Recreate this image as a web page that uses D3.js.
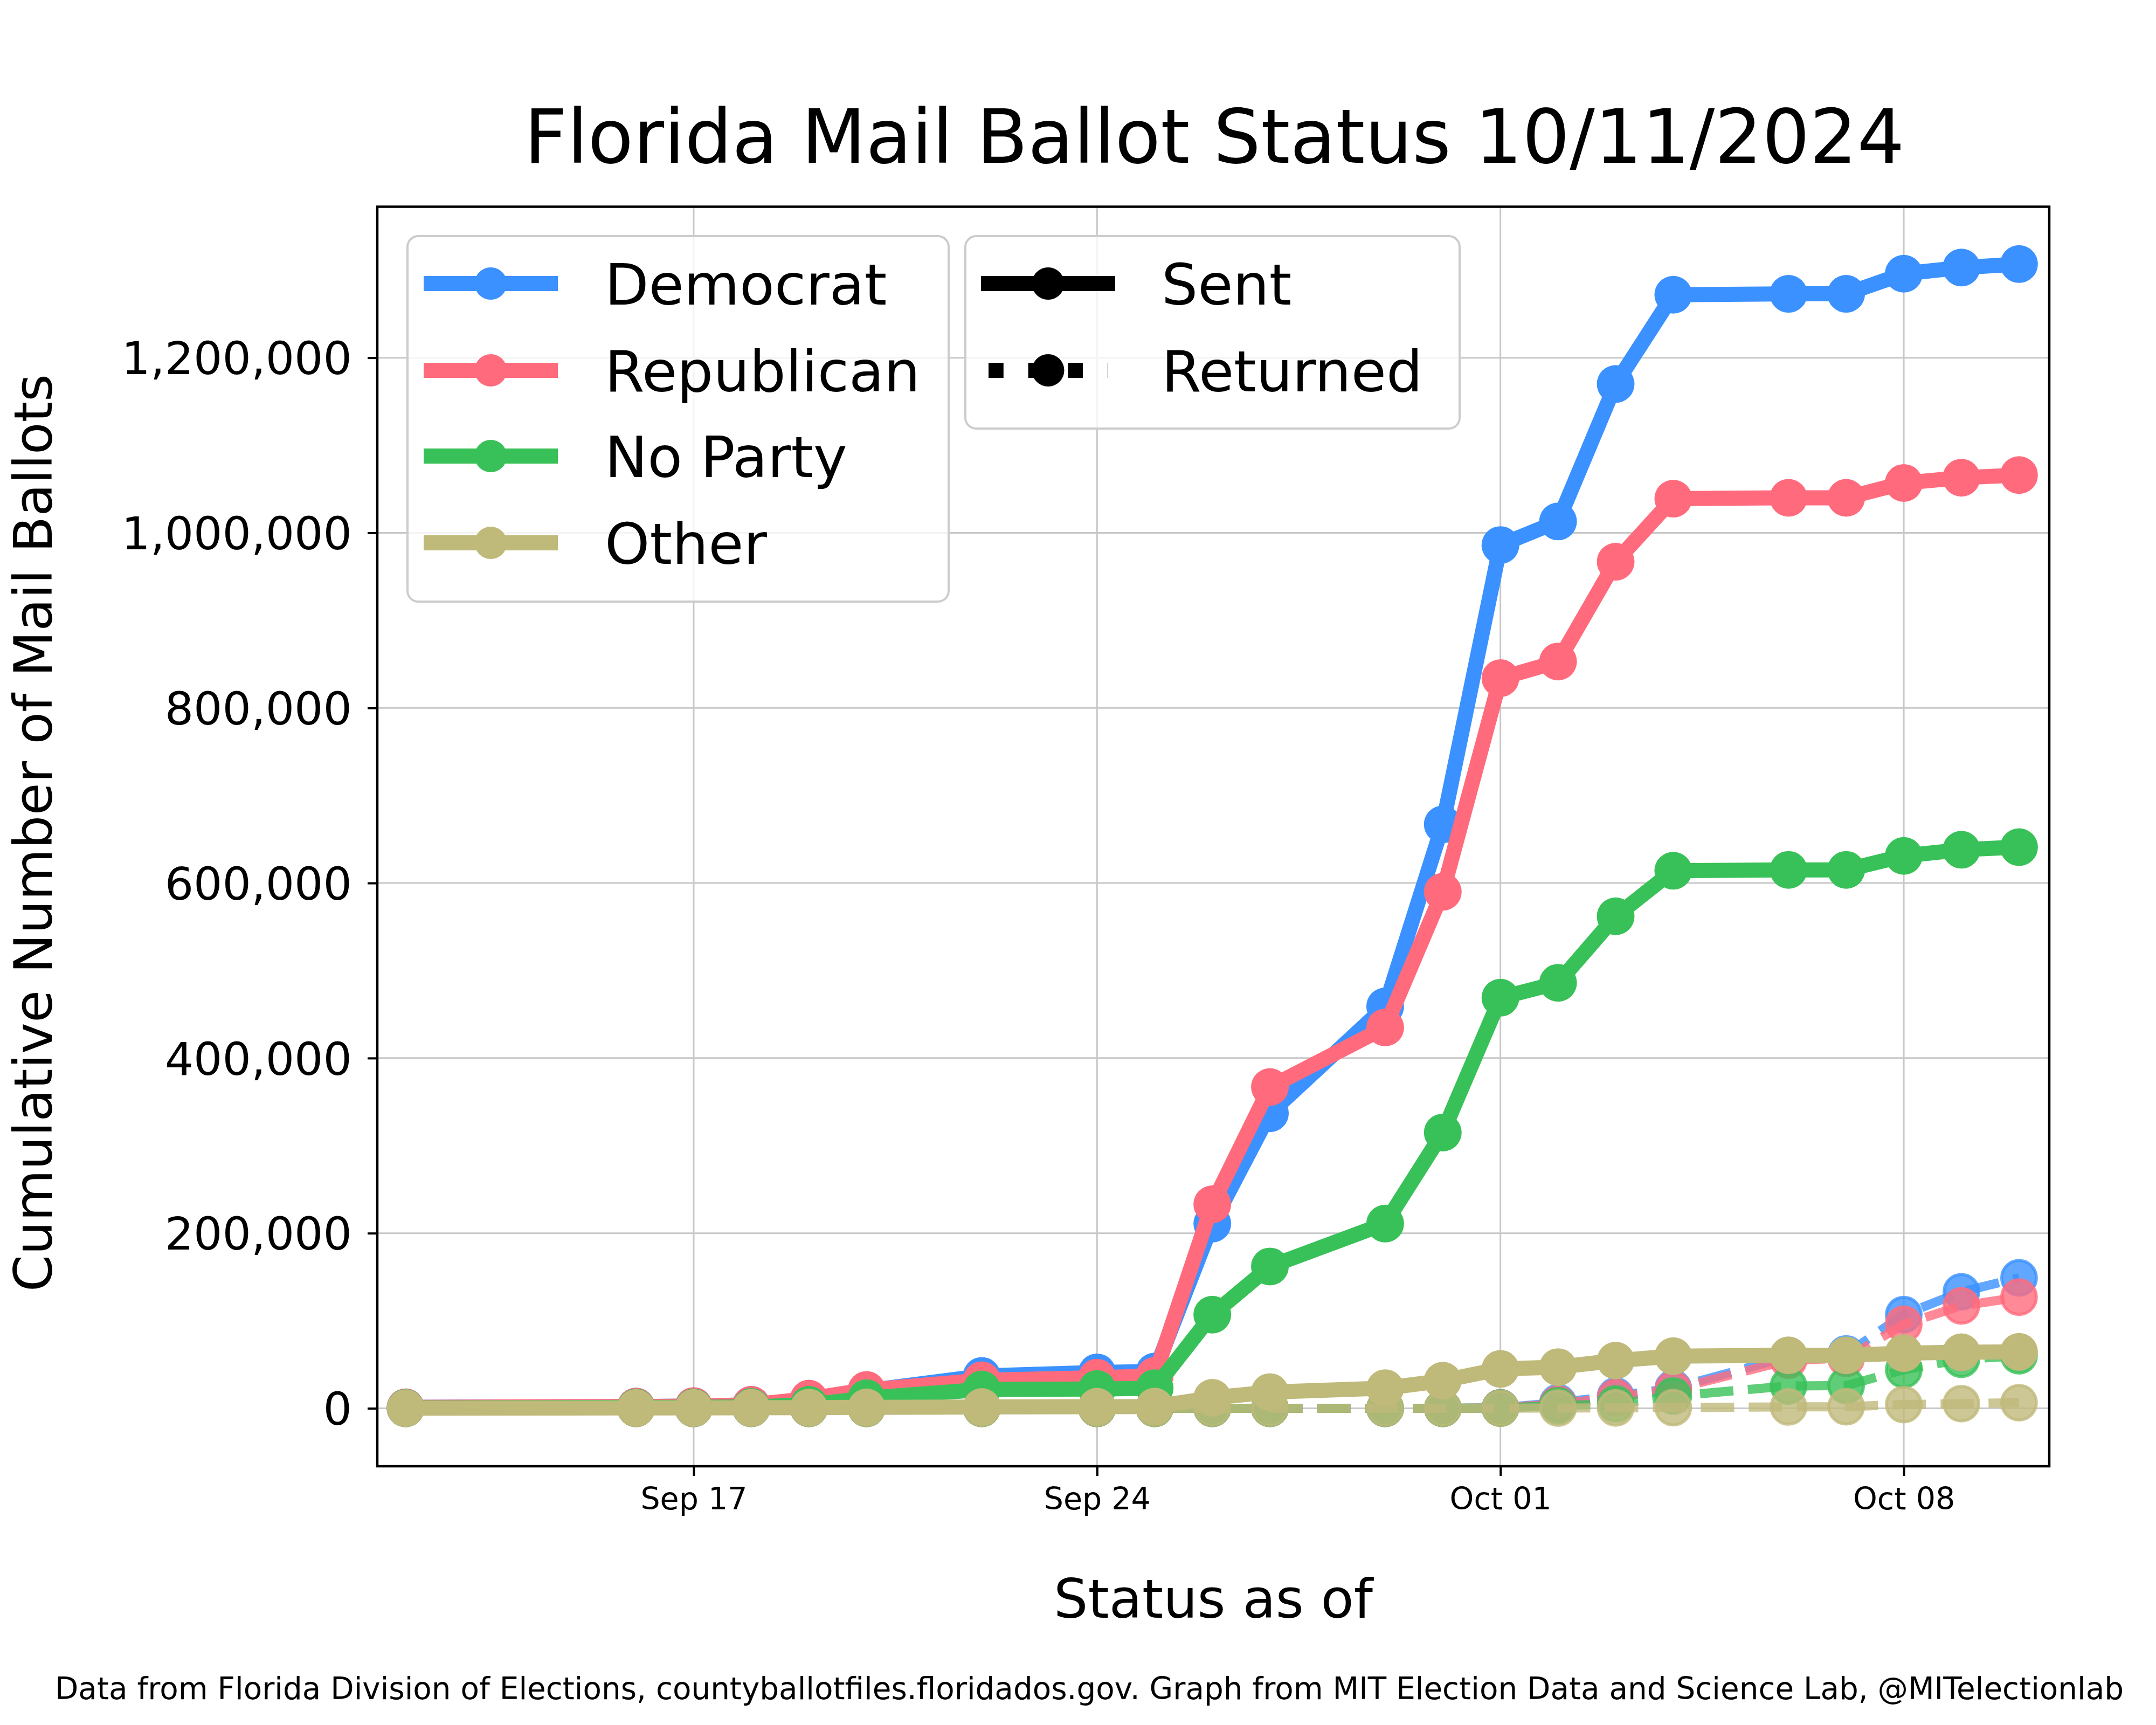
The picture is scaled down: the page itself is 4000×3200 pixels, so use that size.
<!DOCTYPE html>
<html><head><meta charset="utf-8">
<script src="https://cdn.jsdelivr.net/npm/d3@7"></script>
<style>
body{margin:0;background:#fff}
svg{display:block}
text{font-family:"DejaVu Sans",sans-serif;fill:#000}
</style>
</head><body>
<svg id="chart" width="4000" height="3200"></svg>
<script>
// ---------- data ----------
const dates = ["2024-09-12","2024-09-16","2024-09-17","2024-09-18","2024-09-19","2024-09-20","2024-09-22",
  "2024-09-24","2024-09-25","2024-09-26","2024-09-27","2024-09-29","2024-09-30","2024-10-01",
  "2024-10-02","2024-10-03","2024-10-04","2024-10-06","2024-10-07","2024-10-08","2024-10-09","2024-10-10"];
const parties = ["Democrat","Republican","No Party","Other"];
const partyColors = ["#3b91ff","#ff6b7d","#38c158","#bfb97a"];
const sentDemocrat   = [1000,2000,2500,4000,10000,20000,37000,41000,42000,211000,337000,459000,667000,986000,1013000,1170000,1272000,1273000,1273000,1296000,1303000,1307000];
const sentRepublican = [1000,2000,2500,4000,11000,21000,32000,35000,37000,233000,367000,435000,590000,834000,853000,967000,1039000,1040000,1040000,1057000,1063000,1066000];
const sentNoParty    = [500,1000,1000,1500,4000,11500,21500,22000,23000,107000,162000,211000,315000,469000,486000,562000,614000,615000,615000,631000,638000,641000];
const sentOther      = [200,400,500,600,800,1000,1500,1800,2000,12000,18500,23000,31500,45000,47000,54500,59500,60500,60500,63000,64000,64500];
const returnedDemocrat   = [0,0,0,0,0,0,0,0,0,0,0,0,0,500,6500,14000,23000,59000,62000,107000,133000,149000];
const returnedRepublican = [0,0,0,0,0,0,0,0,0,0,0,0,0,500,5000,12500,21500,55000,57000,96000,117000,127000];
const returnedNoParty    = [0,0,0,0,0,0,0,0,0,0,0,0,0,300,3000,5000,14000,25500,26000,44000,56000,60000];
const returnedOther      = [0,0,0,0,0,0,0,0,0,0,0,0,0,100,300,500,800,1600,1800,4300,5300,6400];
const yTickValues = [0,200000,400000,600000,800000,1000000,1200000];
const xTickLabels = ["2024-09-17","2024-09-24","2024-10-01","2024-10-08"];
const statusLabels = ["Sent","Returned"];
const titleText = "Florida Mail Ballot Status 10/11/2024";
const xLabel = "Status as of";
const yLabel = "Cumulative Number of Mail Ballots";
const footer = "Data from Florida Division of Elections, countyballotfiles.floridados.gov. Graph from MIT Election Data and Science Lab, @MITelectionlab";

// ---------- layout ----------
const L = 700, R = 3802, T = 383.5, B = 2720;
const parse = d3.utcParse("%Y-%m-%d");
const x = d3.scaleUtc()
  .domain([new Date(Date.UTC(2024,8,11,12,14)), new Date(Date.UTC(2024,9,10,12,36))])
  .range([L, R]);
const y = d3.scaleLinear().domain([-66200, 1372500]).range([B, T]);

const svg = d3.select("#chart");
svg.append("rect").attr("width",4000).attr("height",3200).attr("fill","#fff");

// grid
const grid = svg.append("g").attr("stroke","#c8c8c8").attr("stroke-width",3);
yTickValues.forEach(v => grid.append("line").attr("x1",L).attr("x2",R).attr("y1",y(v)).attr("y2",y(v)));
xTickLabels.forEach(d => grid.append("line").attr("y1",T).attr("y2",B).attr("x1",x(parse(d))).attr("x2",x(parse(d))));

// series
const sentSeries = [sentDemocrat, sentRepublican, sentNoParty, sentOther];
const retSeries = [returnedDemocrat, returnedRepublican, returnedNoParty, returnedOther];
const line = d3.line().x(d => x(d.date)).y(d => y(d.v));
const toPts = arr => arr.map((v,i) => ({date: parse(dates[i]), v}));

const retAlpha = 0.8;
retSeries.forEach((arr, k) => {
  const g = svg.append("g");
  const pts = toPts(arr);
  g.append("path").attr("d", line(pts)).attr("fill","none")
    .attr("stroke", partyColors[k]).attr("stroke-opacity", retAlpha)
    .attr("stroke-width", 17).attr("stroke-dasharray","62 27")
    .attr("stroke-linejoin","round").attr("stroke-linecap","butt");
  g.selectAll("circle").data(pts).join("circle")
    .attr("cx", d => x(d.date)).attr("cy", d => y(d.v)).attr("r", 32.2)
    .attr("fill", partyColors[k]).attr("fill-opacity", retAlpha)
    .attr("stroke", partyColors[k]).attr("stroke-opacity", retAlpha).attr("stroke-width", 5.5);
});
sentSeries.forEach((arr, k) => {
  const g = svg.append("g");
  const pts = toPts(arr);
  g.append("path").attr("d", line(pts)).attr("fill","none")
    .attr("stroke", partyColors[k]).attr("stroke-width", 28)
    .attr("stroke-linejoin","round").attr("stroke-linecap","square");
  g.selectAll("circle").data(pts).join("circle")
    .attr("cx", d => x(d.date)).attr("cy", d => y(d.v)).attr("r", 35)
    .attr("fill", partyColors[k]);
});

// axes
const yAxis = d3.axisLeft(y).tickValues(yTickValues).tickFormat(d3.format(","))
  .tickSize(18).tickPadding(29);
const gy = svg.append("g").attr("transform",`translate(${L},0)`).call(yAxis);
gy.select(".domain").remove();
gy.selectAll(".tick line").attr("stroke","#000").attr("stroke-width",4);
gy.selectAll(".tick text").attr("font-size",84).attr("dy","0.36em")
  .attr("font-family","DejaVu Sans").attr("fill","#000");

const xAxis = d3.axisBottom(x).tickValues(xTickLabels.map(parse)).tickFormat(d3.utcFormat("%b %d"))
  .tickSize(18).tickPadding(22);
const gx = svg.append("g").attr("transform",`translate(0,${B})`).call(xAxis);
gx.select(".domain").remove();
gx.selectAll(".tick line").attr("stroke","#000").attr("stroke-width",4);
gx.selectAll(".tick text").attr("font-size",57).attr("font-family","DejaVu Sans").attr("fill","#000");

// frame
svg.append("rect").attr("x",L).attr("y",T).attr("width",R-L).attr("height",B-T)
  .attr("fill","none").attr("stroke","#000").attr("stroke-width",4.5);

// legends
function legendBox(x0,y0,w,h){
  svg.append("rect").attr("x",x0).attr("y",y0).attr("width",w).attr("height",h).attr("rx",20)
    .attr("fill","#fff").attr("fill-opacity",0.8).attr("stroke","#cccccc").attr("stroke-width",4);
}
legendBox(756,438,1004,678);
legendBox(1791,438,917,357);
const rowY = [526,687,846,1007];
parties.forEach((p,i) => {
  const g = svg.append("g");
  g.append("line").attr("x1",800).attr("x2",1021).attr("y1",rowY[i]).attr("y2",rowY[i])
    .attr("stroke",partyColors[i]).attr("stroke-width",28).attr("stroke-linecap","square");
  g.append("circle").attr("cx",910.5).attr("cy",rowY[i]).attr("r",30).attr("fill",partyColors[i]);
  g.append("text").attr("x",1122).attr("y",rowY[i]+39).attr("font-size",106).text(p);
});
statusLabels.forEach((s,i) => {
  const g = svg.append("g");
  g.append("line").attr("x1",1834).attr("x2",2055).attr("y1",rowY[i]).attr("y2",rowY[i])
    .attr("stroke","#000").attr("stroke-width",28)
    .attr("stroke-linecap", i===0 ? "square" : "butt")
    .attr("stroke-dasharray", i===0 ? null : "27.8 45.8");
  g.append("circle").attr("cx",1944.5).attr("cy",rowY[i]).attr("r",30).attr("fill","#000");
  g.append("text").attr("x",2155).attr("y",rowY[i]+39).attr("font-size",106).text(s);
});

// titles
function fitText(sel, target){
  const w = sel.node().getComputedTextLength();
  const fs = +sel.attr("font-size");
  sel.attr("font-size", fs*target/w);
}
const t = svg.append("text").attr("x",2253).attr("y",302).attr("text-anchor","middle")
  .attr("font-size",137).text(titleText);
fitText(t, 2561);
svg.append("text").attr("x",2251).attr("y",3001).attr("text-anchor","middle")
  .attr("font-size",100).text(xLabel);
svg.append("text").attr("transform","translate(96,1545) rotate(-90)").attr("text-anchor","middle")
  .attr("font-size",98).text(yLabel);
const f = svg.append("text").attr("x",2021).attr("y",3152).attr("text-anchor","middle")
  .attr("font-size",55).text(footer);
fitText(f, 3839);
</script>
</body></html>
